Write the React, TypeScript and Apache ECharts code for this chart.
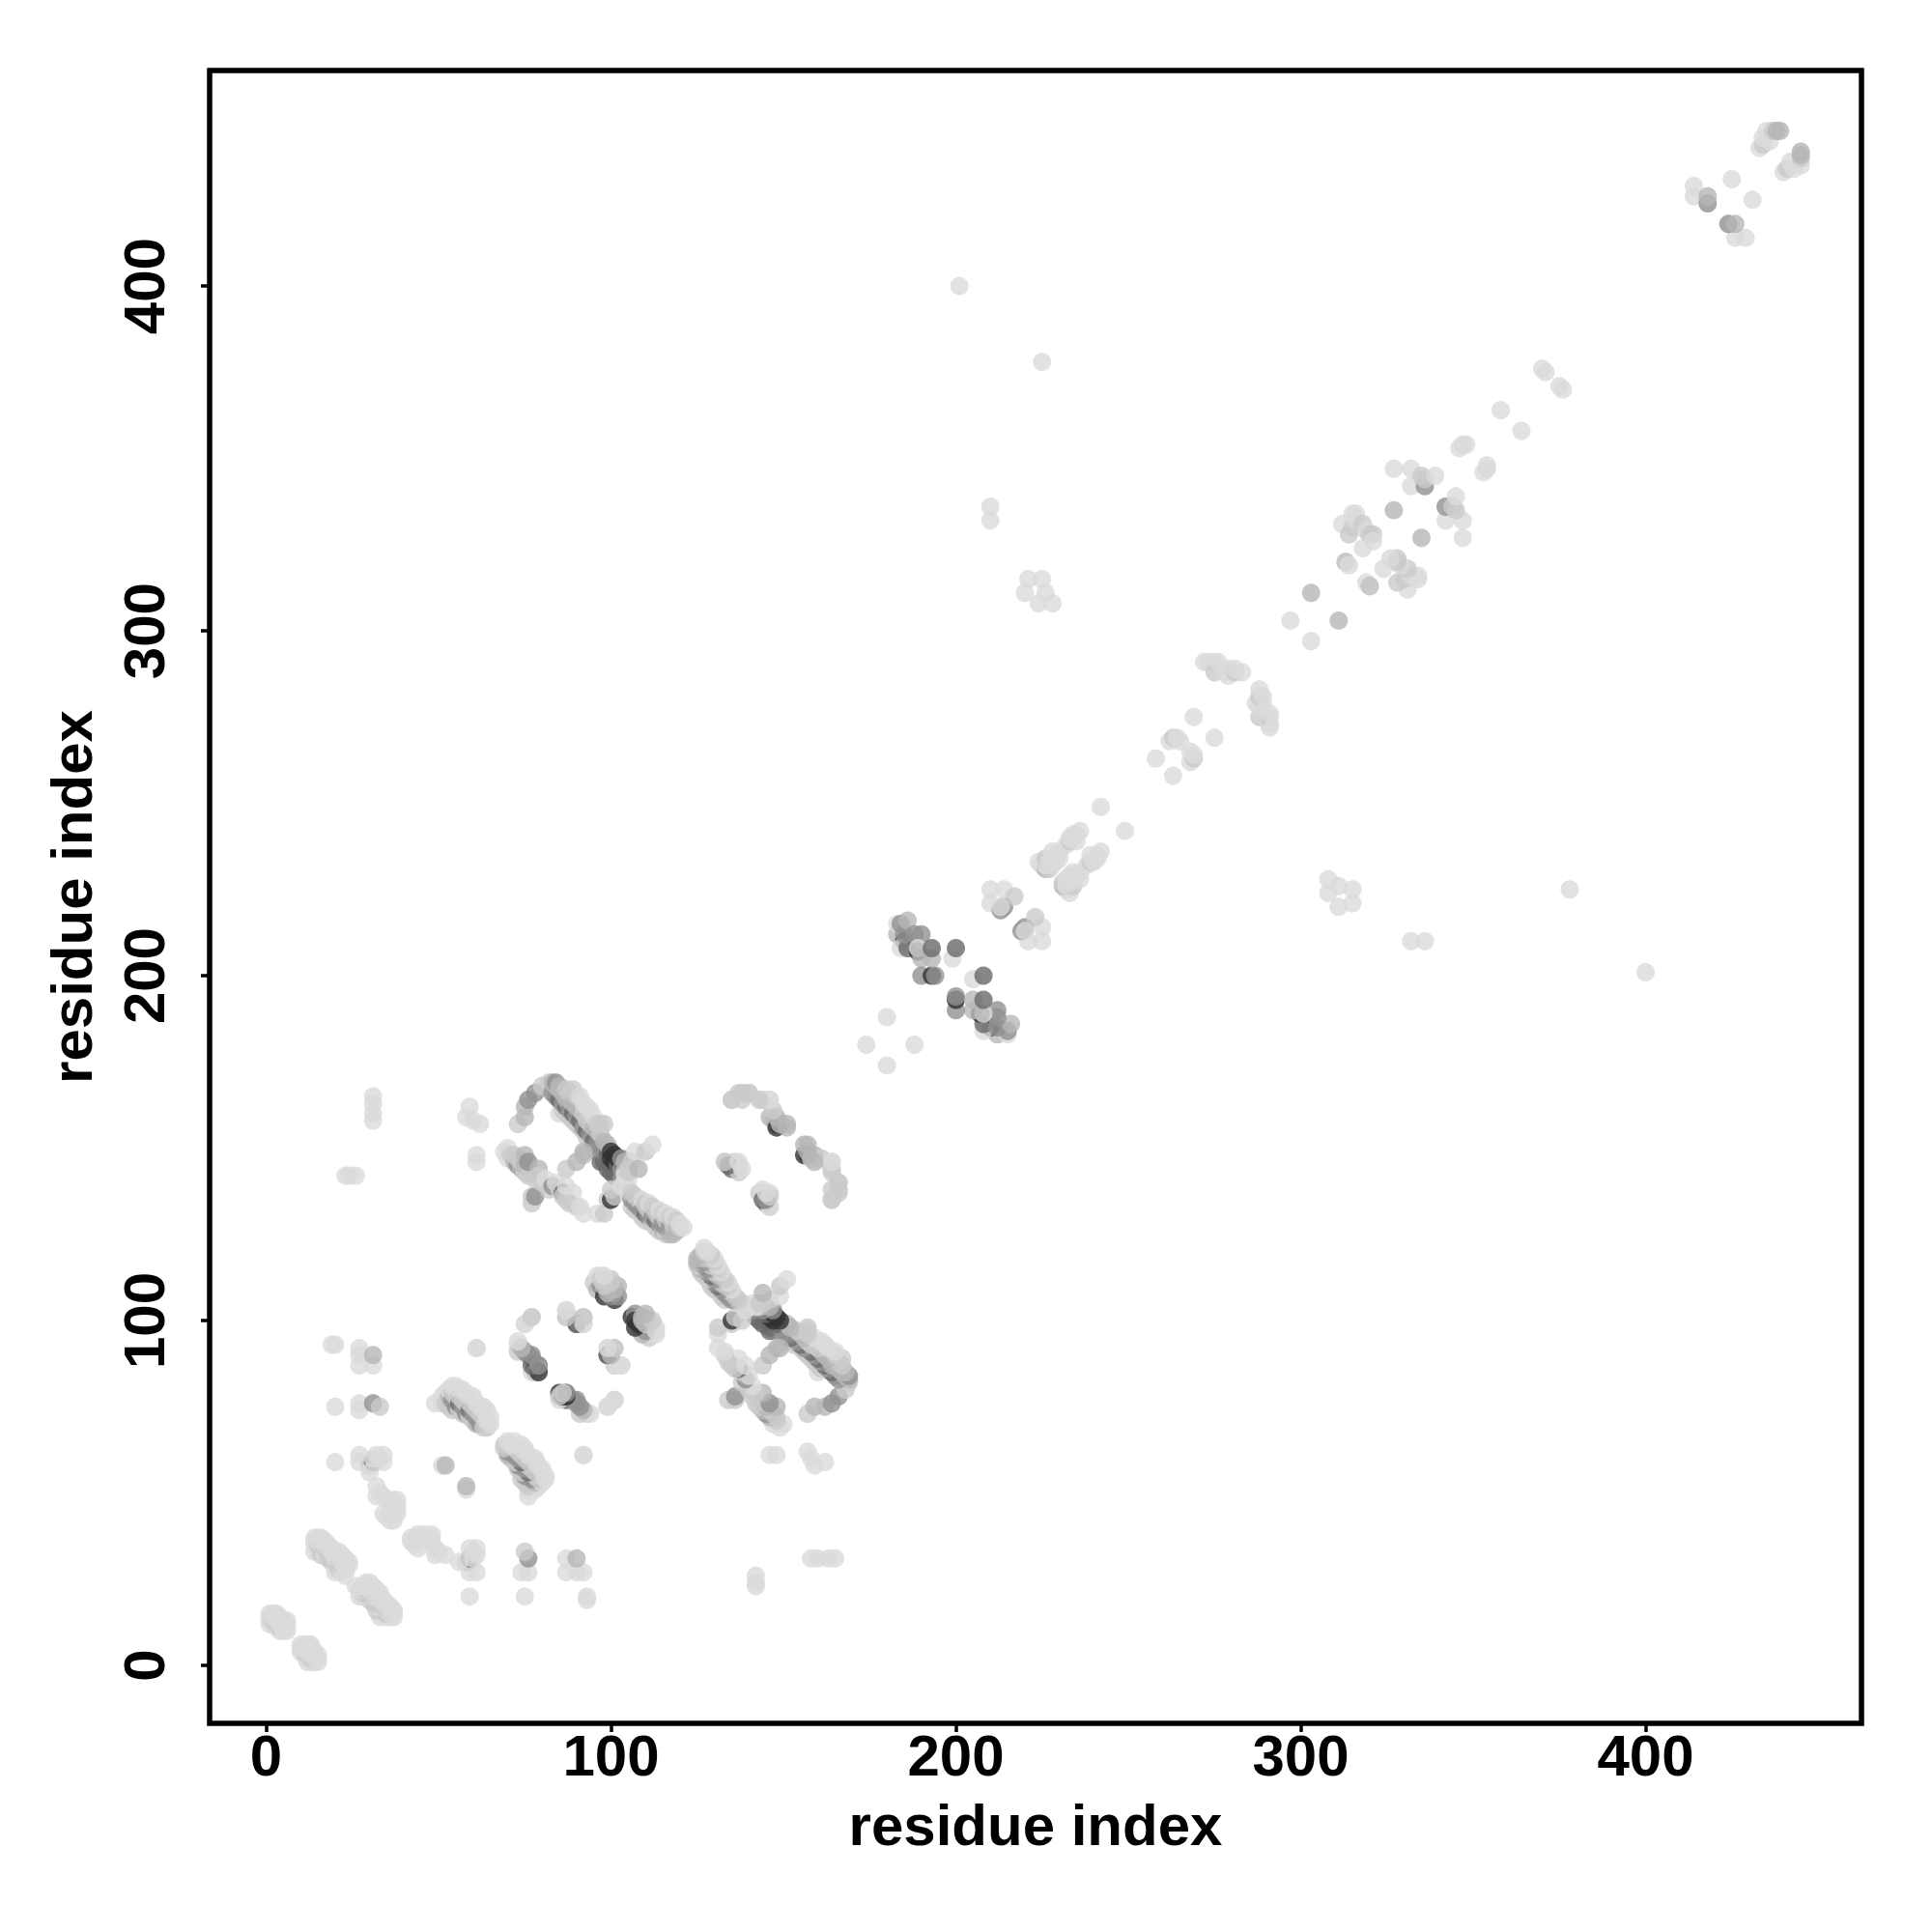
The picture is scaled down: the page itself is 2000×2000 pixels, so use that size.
import React, { useEffect, useRef } from "react";
import * as echarts from "echarts";

type P = [number, number, number];
const L = 219, A = 202, M = 182, G = 145, D = 105, K = 50;

const xTicks = [0, 100, 200, 300, 400];
const yTicks = [0, 100, 200, 300, 400];
const axisTitle = "residue index";

const startCluster: P[] = [
  [1,12,L],[1,13,L],[1,14,L],[1,15,L],[2,12,L],[2,13,A],[2,14,L],[2,15,L],[3,11,L],[3,12,A],[3,13,L],[3,14,L],[3,15,L],
  [4,10,L],[4,11,A],[4,12,L],[4,13,L],[4,14,L],[5,10,L],[5,11,L],[5,12,L],[5,13,L],[6,10,L],[6,11,L],[6,12,L],[6,13,L],
];
const strandA: P[] = [
  [14,33,L],[14,35,L],[14,36,L],[14,37,L],[15,33,L],[15,34,L],[15,35,A],[15,36,L],[15,37,L],[16,32,A],[16,34,A],[16,35,L],[16,37,L],[17,32,L],[17,34,A],[17,35,L],[17,36,L],
  [18,31,A],[18,33,A],[18,34,L],[18,35,L],[19,30,A],[19,32,A],[19,33,L],[19,34,L],[20,27,L],[20,28,L],[20,30,A],[20,31,L],[20,33,L],
  [21,28,A],[21,30,A],[21,31,L],[21,33,L],[22,27,L],[22,29,A],[22,30,L],[22,32,L],[23,26,L],[23,28,L],[23,30,L],[23,31,L],[24,29,L],[24,30,L],
];
const sideColumns: P[] = [
  [19,93,L],[20,93,L],[20,75,L],[20,59,L],[23,142,L],[24,142,L],[26,142,L],
  [27,59,L],[27,61,L],[27,74,L],[27,76,L],[27,87,L],[27,90,L],[27,92,L],[30,58,A],[31,59,D],[31,60,L],[32,61,L],[33,60,L],[34,61,L],
  [31,76,G],[33,75,A],[31,87,L],[31,90,M],[31,158,L],[31,160,L],[31,163,L],[31,165,L],
  [32,49,L],[32,52,L],[33,50,L],[34,49,L],[34,44,L],[35,43,L],[36,42,L],[37,42,L],[35,48,L],[36,45,L],[37,48,L],[37,44,L],[38,44,L],[38,46,L],[38,48,L],
  [30,56,L],[34,59,L],[51,58,L],[52,58,M],[58,159,L],[59,162,L],[60,158,L],[62,157,L],[61,146,L],[61,148,L],[61,92,L],
];
const strandB: P[] = [
  [49,76,L],[51,76,L],[51,78,L],[52,76,A],[52,79,L],[53,75,A],[53,78,M],[53,80,L],[54,74,A],[54,77,G],[54,79,A],[54,81,L],
  [55,75,G],[55,78,A],[55,80,L],[55,81,L],[56,74,A],[56,76,D],[56,78,A],[56,80,L],[57,73,A],[57,75,G],[57,77,A],[57,80,L],[58,73,G],[58,76,A],[58,79,L],
  [59,72,A],[59,74,D],[59,76,A],[59,78,L],[60,71,A],[60,73,G],[60,75,A],[60,78,L],[61,70,M],[61,72,G],[61,74,A],[61,76,L],[62,70,G],[62,73,A],[62,75,L],
  [63,69,A],[63,72,A],[63,74,L],[63,75,L],[64,69,A],[64,71,L],[64,74,L],[65,70,L],[65,72,L],
];
const helixPatches: P[] = [
  [73,93,L],[73,91,A],[74,92,M],[75,99,L],[75,91,G],[76,90,G],[77,85,L],[77,89,G],[77,101,L],[78,86,K],[78,87,K],[78,85,A],[79,87,G],[79,86,A],
  [85,79,K],[87,77,D],[87,79,G],[90,77,G],[92,74,M],[94,73,L],
  [87,101,L],[87,103,L],[90,99,D],[90,100,M],[92,101,A],[92,99,L],
  [99,75,L],[101,77,A],[99,90,D],[99,92,L],[101,92,A],[101,87,A],[103,87,L],[92,61,L],
  [95,111,A],[96,113,L],[96,109,M],[97,110,G],[97,113,L],[98,107,K],[99,108,K],[100,107,K],[99,110,A],[100,109,M],[101,109,M],[100,112,A],[102,110,M],
  [106,101,K],[107,100,G],[108,101,M],[107,102,G],[108,99,M],[109,101,M],[110,98,A],[111,100,A],[112,97,A],[113,98,L],
];
const loopTop: P[] = [
  [73,157,A],[75,159,M],[75,162,M],[76,164,G],[78,166,G],[80,168,A],[82,169,A],[83,166,G],[83,169,M],[84,165,G],[84,168,M],[84,169,G],
  [85,160,L],[85,164,D],[85,167,M],[85,168,M],[86,161,A],[86,163,G],[86,166,M],[86,167,M],[87,160,A],[87,162,D],[87,164,M],[87,165,M],[87,167,A],
  [88,159,A],[88,161,G],[88,164,M],[88,166,A],[89,158,A],[89,160,D],[89,163,M],[89,167,A],[90,157,A],[90,159,G],[90,162,M],[90,165,A],[91,156,A],[91,158,D],[91,161,M],[91,165,L],
  [92,155,A],[92,156,G],[92,160,A],[92,163,L],[93,153,A],[93,155,D],[93,158,A],[93,162,L],[94,152,A],[94,154,G],[94,157,A],[94,161,L],[95,151,A],[95,152,D],[95,156,M],[95,159,L],
  [96,149,M],[96,151,G],[96,155,M],[96,157,A],[97,146,D],[97,149,G],[97,154,A],[97,157,A],[98,146,D],[98,149,G],[98,152,M],[98,157,A],
  [99,144,D],[99,148,D],[99,151,M],[100,143,D],[100,147,K],[100,149,K],[101,142,D],[101,146,K],[101,148,K],[102,145,D],[102,147,K],
  [103,141,G],[103,144,G],[103,147,G],[104,140,A],[104,143,A],[104,146,M],[105,138,A],[105,141,L],[105,144,A],
];
const loopLower: P[] = [
  [69,149,L],[70,150,L],[70,147,L],[71,148,A],[72,146,M],[72,148,A],[73,145,G],[73,147,A],[74,144,M],[74,146,A],[75,143,A],[75,145,M],[75,148,M],[76,142,A],[76,146,G],[77,134,A],[77,136,A],[78,136,G],[78,141,A],[79,144,M],[79,142,A],
  [80,140,A],[81,141,L],[82,138,A],[83,139,G],[84,140,L],[85,138,A],[86,137,D],[86,136,A],[87,135,A],[87,139,L],[89,137,L],[88,134,A],[90,133,A],[91,133,L],[92,131,L],
  [87,144,A],[90,146,M],[92,148,M],[92,149,M],[96,131,L],[98,131,A],[99,135,A],[100,135,K],[100,138,A],[101,136,A],[103,139,L],[104,142,L],
  [105,143,A],[106,146,A],[107,149,L],[108,144,M],[110,149,A],[112,151,L],
];
const strandC: P[] = [
  [106,133,A],[106,135,G],[106,137,A],[107,132,A],[107,134,G],[107,136,A],[108,133,G],[108,135,A],[109,130,A],[109,132,G],[109,135,L],
  [110,129,A],[110,131,D],[110,133,M],[110,134,A],[111,130,G],[111,132,A],[111,134,L],[112,128,A],[112,130,G],[112,133,A],[113,127,A],[113,129,D],[113,131,M],[113,132,A],
  [114,126,A],[114,128,G],[114,130,A],[114,132,L],[115,126,M],[115,128,G],[115,131,A],[116,125,A],[116,127,G],[116,129,A],[116,131,L],[117,125,M],[117,127,G],[117,130,A],
  [118,125,M],[118,126,M],[118,128,A],[118,130,L],[119,126,M],[119,129,A],[120,127,A],[120,128,L],[121,127,L],
];
const upperLoop: P[] = [
  [133,146,L],[135,144,D],[135,145,G],[136,146,A],[135,164,A],[137,145,L],[137,166,A],[140,166,A],[144,164,A],[146,164,L],[143,137,A],[145,134,D],[146,133,A],[146,137,L],[144,138,L],
  [148,157,K],[147,158,A],[146,159,M],[149,157,M],[151,157,M],[156,148,K],[156,151,M],[157,149,M],[159,148,M],[161,147,A],[164,146,L],[164,143,A],[164,135,A],[164,138,A],[166,138,A],[166,140,A],
];
const darkTurn: P[] = [
  [174,180,L],[180,188,L],[183,212,M],[183,215,L],[184,215,G],[185,210,K],[184,208,L],[186,208,D],[185,212,G],[186,216,M],[188,212,G],[190,212,G],
  [189,207,K],[189,208,L],[190,205,M],[190,200,G],[193,200,K],[194,200,G],[193,205,M],[193,208,D],[199,205,L],[200,208,D],
];
const middleDiagonal: P[] = [
  [210,225,L],[210,221,L],[213,219,G],[214,220,G],[213,220,L],[214,225,L],[217,223,A],
  [224,233,L],[225,232,L],[226,231,M],[227,231,A],[226,232,L],[226,234,A],[227,233,L],[228,232,L],[228,234,L],[228,236,L],[229,233,L],[229,235,L],[230,236,L],[230,234,L],
  [232,238,L],[233,239,A],[233,240,L],[234,241,L],[235,239,L],[235,241,L],[236,242,L],[242,249,L],
  [258,263,L],[262,268,L],[263,269,A],[264,269,L],[265,268,L],[269,275,L],
  [272,291,L],[273,291,L],[275,291,L],[275,288,A],[276,291,L],[278,288,L],[279,287,L],[279,289,L],[280,288,L],[281,288,A],[281,289,L],[283,288,L],
  [297,303,L],[303,311,M],[313,320,M],[313,320,A],[319,314,L],
];
const upperDiagonal: P[] = [
  [312,331,L],[314,328,A],[315,330,A],[315,334,L],[316,334,L],[316,332,L],[318,324,L],[318,331,A],[319,329,L],[320,328,A],[321,328,A],[321,326,L],
  [327,335,M],[327,347,L],[332,342,L],[332,347,L],[336,342,G],[335,345,A],[336,344,A],[339,345,L],
  [346,353,L],[347,354,L],[348,354,L],[358,364,L],[370,376,L],[371,375,L],
];
const distantContacts: P[] = [
  [201,400,L],[225,378,L],[210,332,L],[210,336,L],[221,315,L],[225,315,L],[220,311,L],[224,308,L],[226,311,L],[228,308,L],
];
const endCluster: P[] = [
  [414,426,L],[414,429,L],[418,424,G],[418,426,M],[425,431,L],
  [433,440,L],[434,441,A],[434,443,L],[435,445,L],[436,442,L],[437,445,A],[438,445,M],[439,445,M],
];

const allContacts: P[] = [
  ...startCluster, ...strandA, ...sideColumns, ...strandB, ...helixPatches, ...loopTop, ...loopLower,
  ...strandC, ...upperLoop, ...darkTurn, ...middleDiagonal, ...upperDiagonal, ...distantContacts, ...endCluster,
];

const toItem = (x: number, y: number, s: number) => ({
  value: [x, y],
  itemStyle: { color: `rgb(${s},${s},${s})` },
});

export default function App() {
  const ref = useRef<HTMLDivElement>(null);
  useEffect(() => {
    document.body.style.margin = "0";
    const chart = echarts.init(ref.current!, undefined, { renderer: "svg" });
    const font = "Liberation Sans";
    chart.setOption({
      animation: false,
      backgroundColor: "#ffffff",
      grid: { left: 217, right: 73, top: 73, bottom: 216, show: true, borderColor: "#000", borderWidth: 5.5, backgroundColor: "transparent" },
      xAxis: {
        type: "value", min: -16.4, max: 462.6, splitLine: { show: false },
        axisLine: { show: false, onZero: false },
        axisTick: { show: true, length: 9, lineStyle: { color: "#000", width: 3.5 }, customValues: xTicks },
        axisLabel: { color: "#000", fontFamily: font, fontWeight: "bold", fontSize: 60, margin: 3, customValues: xTicks },
        name: axisTitle, nameLocation: "middle", nameGap: 75,
        nameTextStyle: { color: "#000", fontFamily: font, fontWeight: "bold", fontSize: 60 },
      },
      yAxis: {
        type: "value", min: -16.8, max: 462.5, splitLine: { show: false },
        axisLine: { show: false, onZero: false },
        axisTick: { show: true, length: 9, lineStyle: { color: "#000", width: 3.5 }, customValues: yTicks },
        axisLabel: { color: "#000", fontFamily: font, fontWeight: "bold", fontSize: 60, rotate: 90, margin: 38, customValues: yTicks },
        name: axisTitle, nameLocation: "middle", nameGap: 113,
        nameTextStyle: { color: "#000", fontFamily: font, fontWeight: "bold", fontSize: 60 },
      },
      series: [{
        type: "scatter",
        symbol: "circle",
        symbolSize: 19,
        data: [
          ...allContacts.map(([x, y, s]) => toItem(x, y, s)),
          ...allContacts.map(([x, y, s]) => toItem(y, x, s)),
        ],
      }],
    });
    return () => chart.dispose();
  }, []);
  return <div ref={ref} style={{ width: 2000, height: 2000 }} />;
}
